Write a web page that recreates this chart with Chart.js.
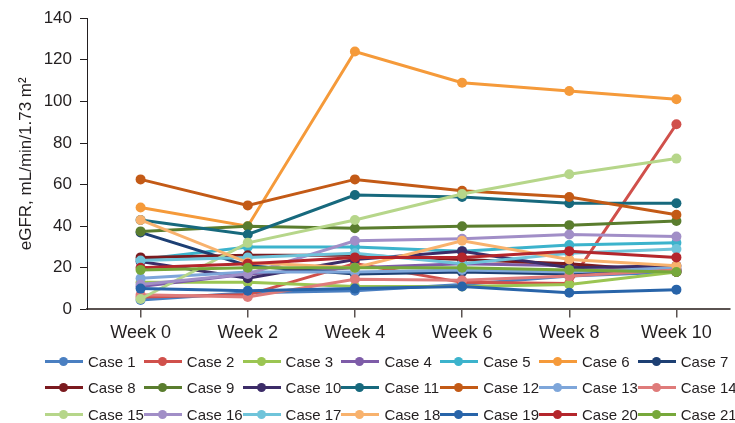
<!DOCTYPE html>
<html>
<head>
<meta charset="utf-8">
<script src="https://cdn.jsdelivr.net/npm/chart.js@4.4.1/dist/chart.umd.min.js"></script>
<style>
  body { margin: 0; background: #fff; }
  #wrap { position: relative; width: 735px; height: 423px; }
  #myChart { position: absolute; left: 0; top: 0; }
  #legend {
    position: absolute; left: 45px; top: 348px;
    display: grid; grid-template-columns: repeat(7, 98.8px); grid-auto-rows: 26.5px;
    font-family: Arial, "Liberation Sans", sans-serif; font-size: 15px; color: #231f20;
  }
  .item { display: flex; align-items: center; white-space: nowrap; }
  .mark { position: relative; width: 38px; height: 3px; margin-right: 5px; flex: none; }
  .mark span { position: absolute; left: 14px; top: -3px; width: 9px; height: 9px; border-radius: 50%; }
</style>
</head>
<body>
<div id="wrap">
  <canvas id="myChart" width="735" height="353"></canvas>
  <div id="legend"></div>
</div>
<script>
const weeks = ["Week 0", "Week 2", "Week 4", "Week 6", "Week 8", "Week 10"];
const yTicks = [0, 20, 40, 60, 80, 100, 120, 140];

const case1 = [4.5, 8, 9, 12, 16, 18];
const case2 = [6, 7, 22, 13, 12.5, 89];
const case3 = [13, 13, 11, 11, 12, 18];
const case4 = [11, 17, 20, 22, 21, 19];
const case5 = [24, 30, 30, 28, 31, 32];
const case6 = [49, 40, 124, 109, 105, 101];
const case7 = [37, 21, 17, 18, 17, 19];
const case8 = [25, 26, 26, 24, 22, 18];
const case9 = [37.5, 40, 39, 40, 40.5, 42.5];
const case10 = [23, 15, 24, 28, 20, 21];
const case11 = [43, 36, 55, 54, 51, 51];
const case12 = [62.5, 50, 62.5, 57, 54, 45.5];
const case13 = [15, 18, 18, 19, 18, 20];
const case14 = [7, 6, 14.5, 14, 16, 19];
const case15 = [5, 32, 43, 55.5, 65, 72.5];
const case16 = [12, 17, 33, 34, 36, 35];
const case17 = [23.5, 25, 27, 22, 27, 29];
const case18 = [43, 22.5, 20, 33, 24, 21];
const case19 = [10, 9, 10, 11, 8, 9.5];
const case20 = [20, 22, 25, 25, 28, 25];
const case21 = [19, 20, 20, 20, 19, 18];

const caseNames = ["Case 1", "Case 2", "Case 3", "Case 4", "Case 5", "Case 6", "Case 7",
  "Case 8", "Case 9", "Case 10", "Case 11", "Case 12", "Case 13", "Case 14",
  "Case 15", "Case 16", "Case 17", "Case 18", "Case 19", "Case 20", "Case 21"];
const caseValues = [case1, case2, case3, case4, case5, case6, case7, case8, case9, case10,
  case11, case12, case13, case14, case15, case16, case17, case18, case19, case20, case21];
const caseColors = ["#4a7fc1", "#d0504b", "#9bc552", "#7e5ca8", "#3cb3cc", "#f59a3a", "#1d3f73",
  "#7b1a1f", "#5a7d2e", "#3c2c68", "#17697d", "#c35a16", "#7ea6da", "#df7b7a",
  "#b6d68a", "#a18ec7", "#6fc4da", "#f8b26d", "#2864a9", "#b4262c", "#77a83b"];

const fontFamily = 'Arial, "Liberation Sans", sans-serif';
const textColor = "#231f20";

const datasets = caseNames.map(function (name, i) {
    return {
        label: name,
        data: caseValues[i],
        borderColor: caseColors[i],
        backgroundColor: caseColors[i],
        pointBackgroundColor: caseColors[i],
        pointBorderColor: caseColors[i],
        borderWidth: 3,
        pointRadius: 5,
        pointBorderWidth: 0,
        fill: false,
        order: caseNames.length - i
    };
});

var ctx = document.getElementById('myChart').getContext("2d");
var myChart = new Chart(ctx, {
    type: 'line',
    data: { labels: weeks, datasets: datasets },
    options: {
        responsive: false,
        animation: false,
        layout: { padding: { left: 12, right: 0, top: 4, bottom: 4 } },
        plugins: {
            legend: { display: false },
            tooltip: { enabled: false }
        },
        scales: {
            x: {
                offset: true,
                grid: { drawOnChartArea: false, drawTicks: true, tickLength: 8, color: "#5a5250", lineWidth: 1.5 },
                border: { display: true, color: "#5a5250", width: 2 },
                ticks: { color: textColor, padding: 5, font: { family: fontFamily, size: 18 } }
            },
            y: {
                min: 0,
                max: 140,
                afterFit: function (scale) { scale.width = 75; },
                afterBuildTicks: function (scale) {
                    scale.ticks = yTicks.map(function (v) { return { value: v }; });
                },
                grid: { drawOnChartArea: false, drawTicks: true, tickLength: 7, color: "#231f20", lineWidth: 1 },
                border: { display: true, color: "#231f20", width: 1 },
                ticks: { color: textColor, padding: 8, font: { family: fontFamily, size: 17 } },
                title: {
                    display: true,
                    text: "eGFR, mL/min/1.73 m²",
                    color: textColor,
                    padding: { top: 4, bottom: 6 },
                    font: { family: fontFamily, size: 17 }
                }
            }
        }
    }
});

// legend like the original: line with a dot in the middle
const legend = document.getElementById("legend");
caseNames.forEach(function (name, i) {
    const item = document.createElement("div");
    item.className = "item";
    item.innerHTML = '<div class="mark" style="background:' + caseColors[i] + '"><span style="background:' +
        caseColors[i] + '"></span></div><span>' + name + '</span>';
    legend.appendChild(item);
});
</script>
</body>
</html>
